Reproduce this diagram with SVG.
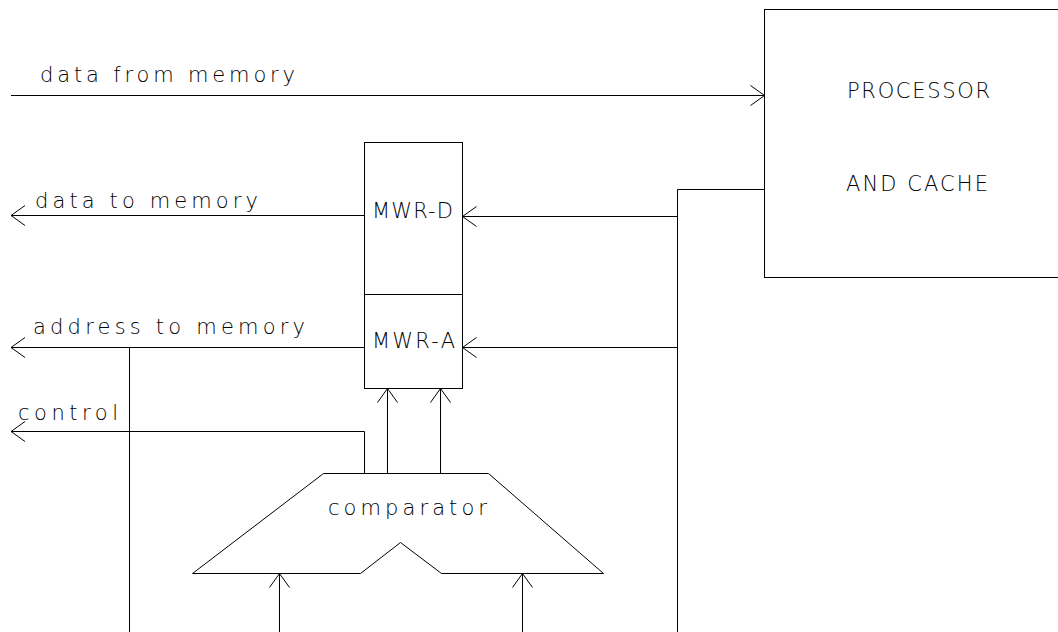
<svg xmlns="http://www.w3.org/2000/svg" width="1058" height="632" viewBox="0 0 1058 632">
<style>
.ln{fill:none;stroke:#000;stroke-width:1}
.t{font-family:"DejaVu Sans","Liberation Sans",Arial,sans-serif;font-size:21px;font-weight:200;fill:#000}
</style>
<defs>
<marker id="ah" markerUnits="userSpaceOnUse" markerWidth="32" markerHeight="32" viewBox="-16 -16 32 32" refX="0" refY="0" orient="auto">
<path d="M-14,-10 L0,0 L-14,10" fill="none" stroke="#000" stroke-width="1"/>
</marker>
</defs>
<rect width="1058" height="632" fill="#fff"/>
<g id="processor">
<rect class="ln" x="764.5" y="9.5" width="300" height="268"/>
<text class="t" x="847" y="98" textLength="143" lengthAdjust="spacing">PROCESSOR</text>
<text class="t" x="846" y="191" textLength="142" lengthAdjust="spacing">AND CACHE</text>
</g>
<g id="mwr">
<rect class="ln" x="364.5" y="142.5" width="98" height="246"/>
<line class="ln" x1="364.5" y1="294.5" x2="462.5" y2="294.5"/>
<text class="t" x="372" y="218" textLength="81" lengthAdjust="spacing">MWR-D</text>
<text class="t" x="372" y="348" textLength="83" lengthAdjust="spacing">MWR-A</text>
</g>
<g id="comparator">
<path class="ln" d="M323.5,473.5 H488.5 L603.5,573.5 H441.5 L400.5,542.5 L360.5,573.5 H192.5 Z"/>
<text class="t" x="328" y="515" textLength="159" lengthAdjust="spacing">comparator</text>
</g>
<g id="labels">
<text class="t" x="40" y="82" textLength="255" lengthAdjust="spacing">data from memory</text>
<text class="t" x="35" y="208" textLength="223" lengthAdjust="spacing">data to memory</text>
<text class="t" x="33" y="334" textLength="272" lengthAdjust="spacing">address to memory</text>
<text class="t" x="18" y="420" textLength="100" lengthAdjust="spacing">control</text>
</g>
<g id="connectors" class="ln">
<path class="ln" d="M11,95.5 H764.5" marker-end="url(#ah)"/>
<path class="ln" d="M364.5,215.5 H11" marker-end="url(#ah)"/>
<path class="ln" d="M364.5,347.5 H11" marker-end="url(#ah)"/>
<path class="ln" d="M364.5,473.5 V431.5 H11" marker-end="url(#ah)"/>
<path class="ln" d="M677.5,216.5 H462.5" marker-end="url(#ah)"/>
<path class="ln" d="M677.5,347.5 H462.5" marker-end="url(#ah)"/>
<path class="ln" d="M764.5,189.5 H677.5 V632"/>
<path class="ln" d="M129.5,347.5 V632"/>
<path class="ln" d="M387.5,473.5 V388.5" marker-end="url(#ah)"/>
<path class="ln" d="M440.5,473.5 V388.5" marker-end="url(#ah)"/>
<path class="ln" d="M279.5,632 V573.5" marker-end="url(#ah)"/>
<path class="ln" d="M522.5,632 V573.5" marker-end="url(#ah)"/>
</g>
</svg>
